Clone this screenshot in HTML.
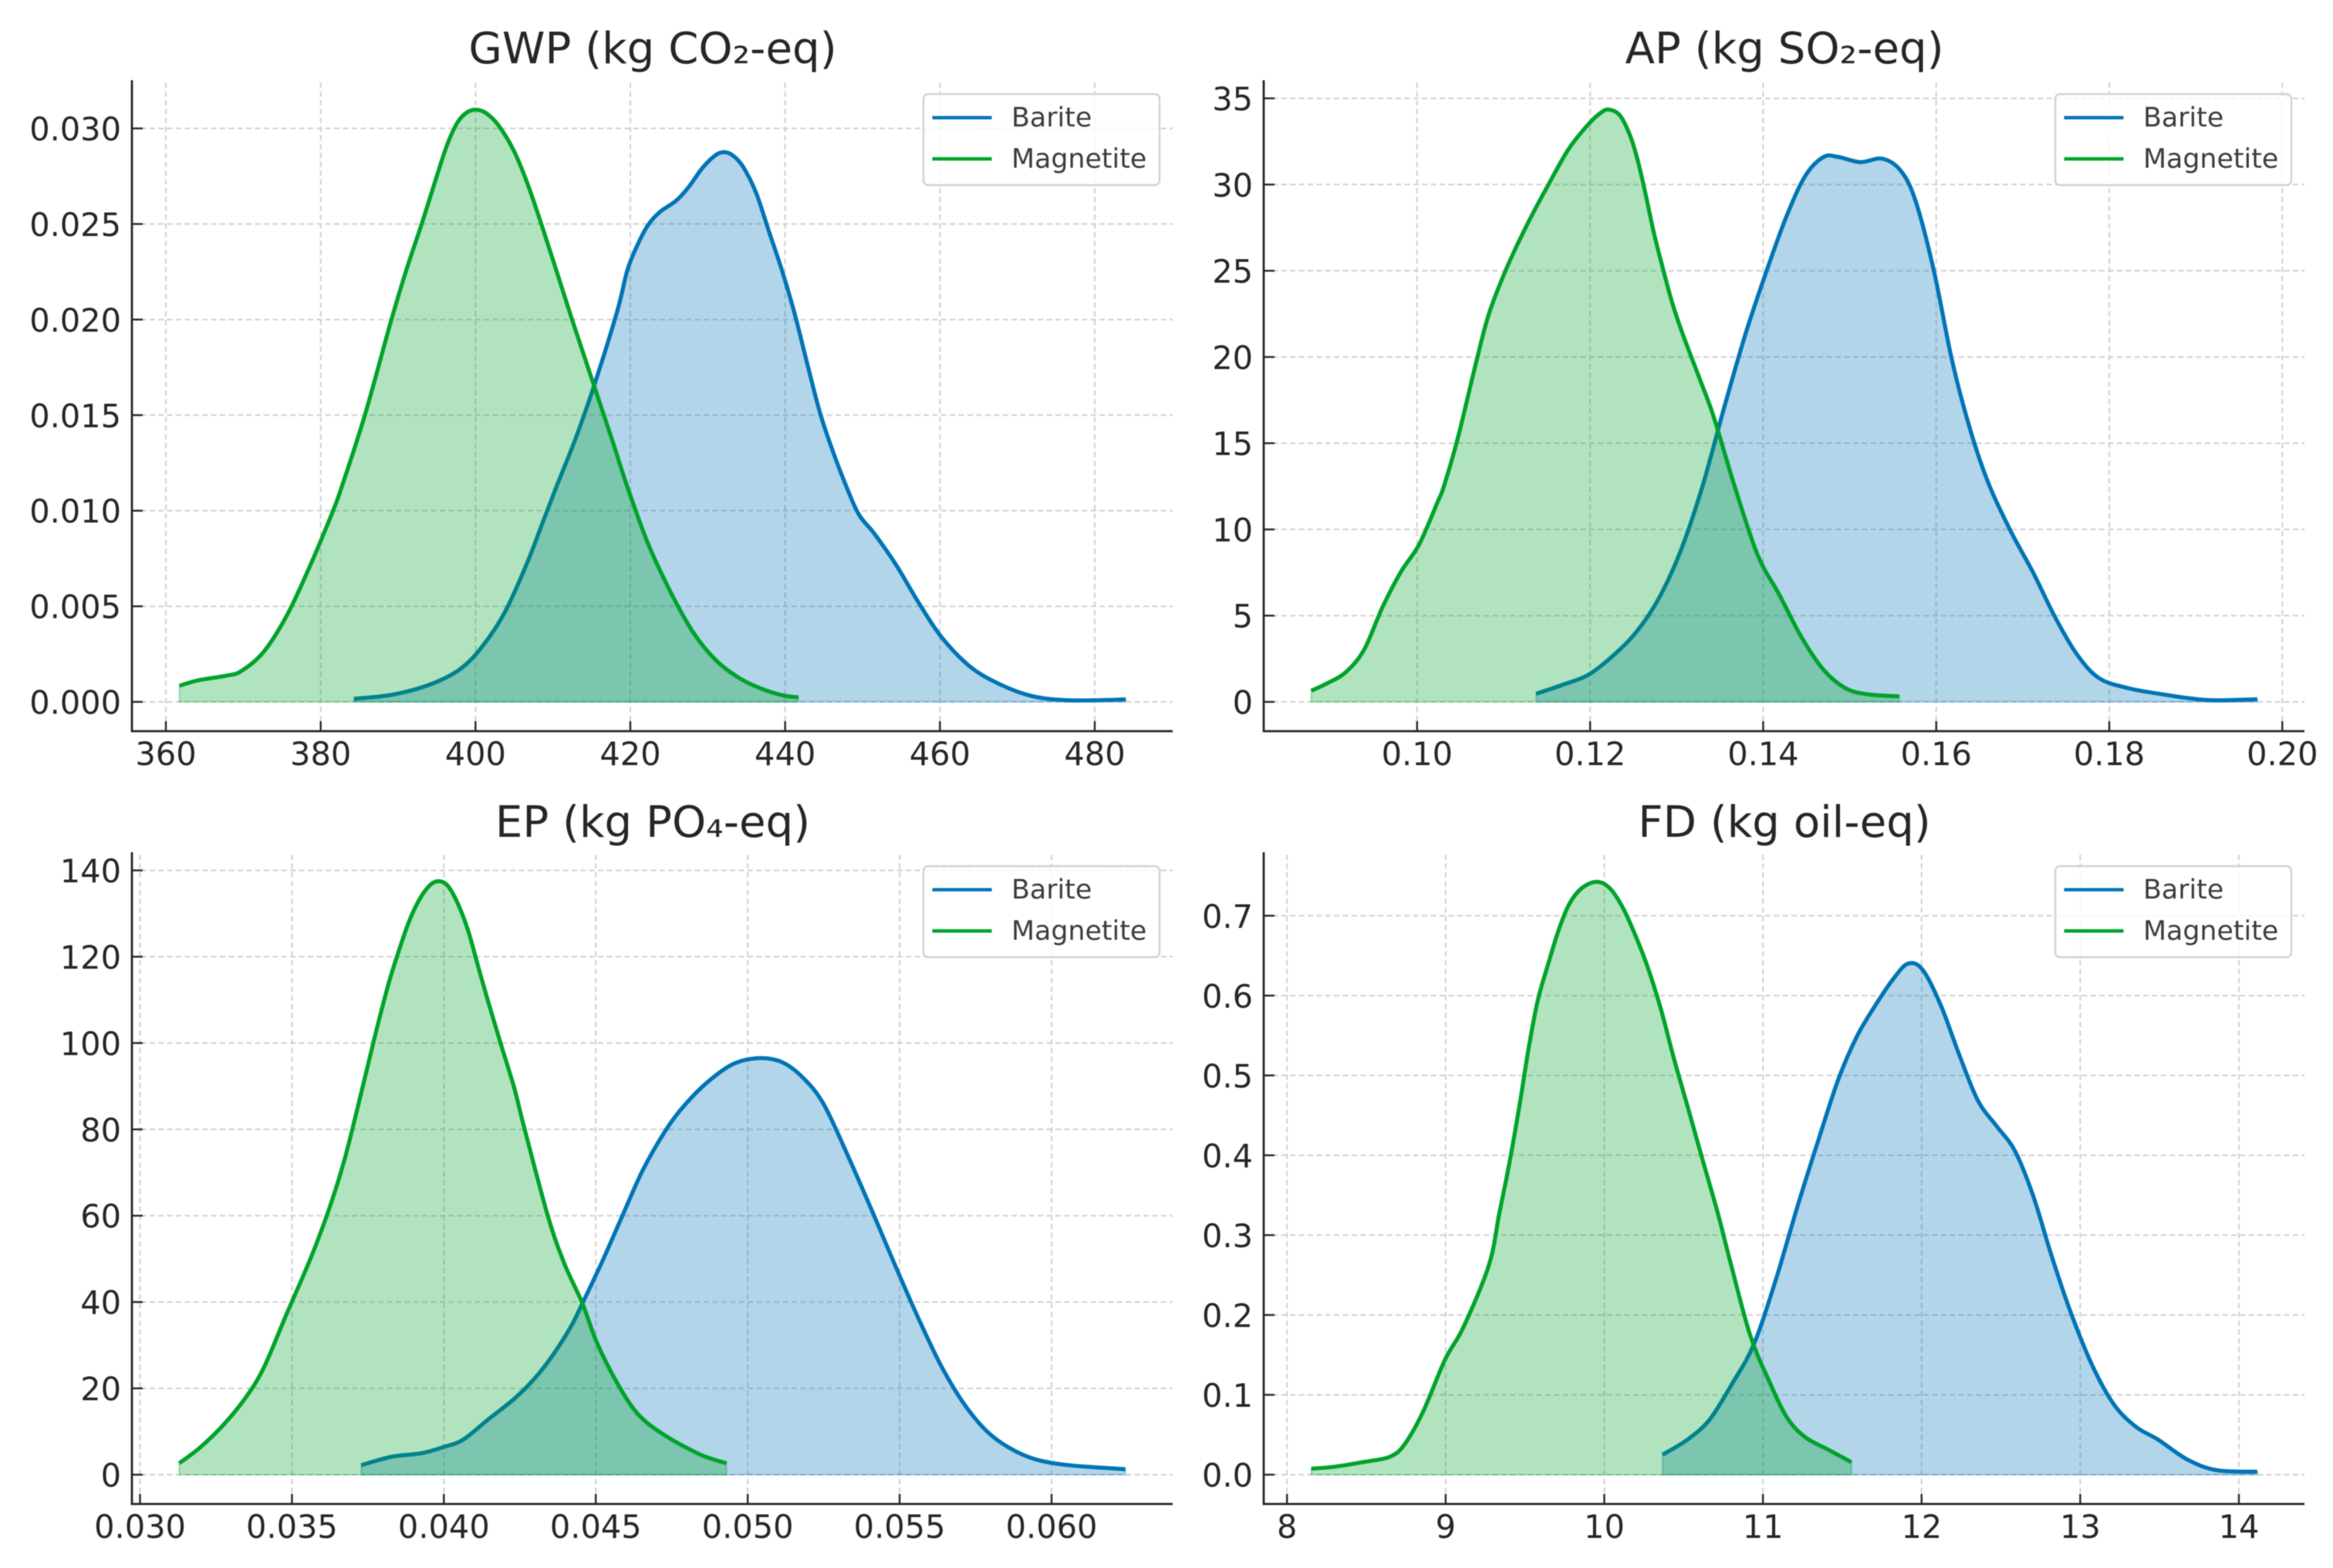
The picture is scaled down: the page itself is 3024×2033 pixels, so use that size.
<!DOCTYPE html>
<html lang="en">
<head>
<meta charset="utf-8">
<title>LCA impact density plots: Barite vs Magnetite</title>
<style>
  html, body { margin: 0; padding: 0; background: #ffffff; }
  body { width: 3024px; height: 2033px; overflow: hidden; }
  #figure { display: block; filter: blur(0.6px); }
  text { font-family: "DejaVu Sans", "Liberation Sans", sans-serif; }
  .panel-title { font-size: 56.2px; fill: #262626; text-anchor: middle; }
  .tick-label { font-size: 41.5px; fill: #262626; }
  .legend-label { font-size: 34.8px; fill: #3c3c3c; }
</style>
</head>
<body>
<svg id="figure" xmlns="http://www.w3.org/2000/svg" width="3024" height="2033" viewBox="0 0 3024 2033">
  <rect width="3024" height="2033" fill="#ffffff"/>
  <g id="panel-gwp">
    <text class="panel-title" x="846" y="82">GWP (kg CO₂-eq)</text>
  </g>
  <g id="panel-ap">
    <text class="panel-title" x="2313" y="82">AP (kg SO₂-eq)</text>
  </g>
  <g id="panel-ep">
    <text class="panel-title" x="846" y="1085">EP (kg PO₄-eq)</text>
  </g>
  <g id="panel-fd">
    <text class="panel-title" x="2313" y="1085">FD (kg oil-eq)</text>
  </g>
</svg>
<script>
// ---- Data: categories ----
const seriesNames = ["Barite", "Magnetite"];

// ---- Data: GWP ----
const gwpXTicks = [360, 380, 400, 420, 440, 460, 480];
const gwpXTickLabels = ["360", "380", "400", "420", "440", "460", "480"];
const gwpYTicks = [0, 0.005, 0.01, 0.015, 0.02, 0.025, 0.03];
const gwpYTickLabels = ["0.000", "0.005", "0.010", "0.015", "0.020", "0.025", "0.030"];
const gwpBariteX = [384.3, 389.2, 394, 397.9, 400.8, 403.8, 406.7, 408.6, 410.5, 413, 415.32, 418.31, 419.63, 420.97, 422.3, 423.79, 425.95, 427.61, 429.27, 430.94, 432.09, 433.26, 434.59, 436.25, 437.91, 439.57, 441.23, 442.9, 444.55, 446.22, 447.88, 449.53, 451.53, 454.3, 457.2, 460.2, 464, 467.9, 471.8, 475.7, 479.6, 484];
const gwpBariteY = [0.00016, 0.00037, 0.00089, 0.00168, 0.00286, 0.0047, 0.0073, 0.0093, 0.0113, 0.01385, 0.01654, 0.02044, 0.0226, 0.02394, 0.02495, 0.02562, 0.02623, 0.02697, 0.02791, 0.02858, 0.02876, 0.02858, 0.02798, 0.02663, 0.02461, 0.0226, 0.02031, 0.01762, 0.01506, 0.01305, 0.0113, 0.0098, 0.0088, 0.00719, 0.00522, 0.00339, 0.00181, 0.00089, 0.00031, 0.0001, 0.00008, 0.00013];
const gwpMagnetiteX = [361.75, 364.1, 367.8, 369.7, 372.6, 375.6, 378.5, 381.4, 382.76, 385.75, 389.07, 391.07, 393.06, 395.05, 396.38, 397.7, 398.87, 400.04, 401.36, 403.03, 405.02, 406.68, 408.34, 410, 412.33, 415.32, 417.64, 419.47, 422.2, 425.2, 428.1, 431, 433.9, 436.8, 439.7, 441.7];
const gwpMagnetiteY = [0.00084, 0.00112, 0.00137, 0.0016, 0.0026, 0.0045, 0.007, 0.0098, 0.0113, 0.01506, 0.0199, 0.0226, 0.02502, 0.02757, 0.02919, 0.03033, 0.03083, 0.03098, 0.0308, 0.03013, 0.02878, 0.02715, 0.0252, 0.02313, 0.02018, 0.01654, 0.01372, 0.01143, 0.00837, 0.00575, 0.00365, 0.0022, 0.00129, 0.00071, 0.00034, 0.00024];

// ---- Data: AP ----
const apXTicks = [0.10, 0.12, 0.14, 0.16, 0.18, 0.20];
const apXTickLabels = ["0.10", "0.12", "0.14", "0.16", "0.18", "0.20"];
const apYTicks = [0, 5, 10, 15, 20, 25, 30, 35];
const apYTickLabels = ["0", "5", "10", "15", "20", "25", "30", "35"];
const apBariteX = [0.11376, 0.11682, 0.1198, 0.12277, 0.12532, 0.12787, 0.13042, 0.13297, 0.13551, 0.13806, 0.14061, 0.14273, 0.14486, 0.14698, 0.14868, 0.15123, 0.15378, 0.1559, 0.1576, 0.15973, 0.16185, 0.16398, 0.1661, 0.16865, 0.1712, 0.17375, 0.1763, 0.17884, 0.18224, 0.18649, 0.18989, 0.19244, 0.19711];
const apBariteY = [0.47, 0.99, 1.57, 2.73, 4.04, 5.94, 8.7, 12.48, 17.1, 21.5, 25.3, 28.2, 30.5, 31.6, 31.6, 31.3, 31.5, 30.8, 29.07, 25.0, 19.75, 15.7, 12.6, 9.86, 7.5, 4.9, 2.73, 1.37, 0.79, 0.41, 0.17, 0.09, 0.15];
const apMagnetiteX = [0.08777, 0.08963, 0.09176, 0.09388, 0.09601, 0.09813, 0.10025, 0.10238, 0.10311, 0.10474, 0.10682, 0.10831, 0.11039, 0.11277, 0.11515, 0.11752, 0.1199, 0.12139, 0.12228, 0.12347, 0.12465, 0.12555, 0.12644, 0.12733, 0.12822, 0.12942, 0.1306, 0.13239, 0.13387, 0.13491, 0.13669, 0.13934, 0.14188, 0.14443, 0.14698, 0.14953, 0.15208, 0.15573];
const apMagnetiteY = [0.64, 1.08, 1.72, 3.03, 5.5, 7.54, 9.14, 11.6, 12.52, 15.36, 19.68, 22.51, 25.2, 27.73, 29.97, 32.06, 33.55, 34.22, 34.34, 33.99, 32.8, 31.31, 29.37, 27.28, 25.5, 23.26, 21.47, 19.09, 17.14, 15.51, 12.52, 8.55, 6.2, 3.75, 1.86, 0.79, 0.44, 0.32];

// ---- Data: EP ----
const epXTicks = [0.03, 0.035, 0.04, 0.045, 0.05, 0.055, 0.06];
const epXTickLabels = ["0.030", "0.035", "0.040", "0.045", "0.050", "0.055", "0.060"];
const epYTicks = [0, 20, 40, 60, 80, 100, 120, 140];
const epYTickLabels = ["0", "20", "40", "60", "80", "100", "120", "140"];
const epBariteX = [0.03728, 0.03827, 0.03926, 0.04001, 0.04063, 0.04147, 0.04232, 0.043, 0.04359, 0.04418, 0.04456, 0.0452, 0.04587, 0.04655, 0.04731, 0.04791, 0.04867, 0.04951, 0.05036, 0.05112, 0.0518, 0.05248, 0.05324, 0.05413, 0.05487, 0.05562, 0.05636, 0.0571, 0.05785, 0.05859, 0.05945, 0.06057, 0.06243];
const epBariteY = [2.2, 4.15, 4.96, 6.46, 8.1, 12.87, 17.6, 22.4, 27.75, 34.3, 39.7, 49.2, 59.9, 70.6, 79.9, 85.5, 90.9, 95.1, 96.5, 95.6, 92.1, 86.1, 74.8, 60.5, 48.2, 36.2, 25.3, 16.6, 10.2, 6.3, 3.6, 2.2, 1.27];
const epMagnetiteX = [0.03129, 0.03196, 0.0327, 0.03344, 0.03406, 0.03481, 0.03563, 0.03623, 0.03673, 0.03724, 0.03771, 0.03817, 0.03851, 0.03885, 0.03919, 0.03953, 0.03982, 0.04012, 0.04046, 0.0408, 0.04113, 0.04147, 0.0419, 0.04232, 0.04266, 0.04342, 0.04396, 0.04456, 0.04503, 0.0457, 0.04638, 0.04723, 0.04843, 0.0493];
const epMagnetiteY = [2.65, 6.2, 11.2, 17.5, 24.6, 37, 50.4, 61.7, 73, 87.3, 101, 113.5, 121.2, 128.1, 133.2, 136.5, 137.5, 136.5, 132.3, 126, 117.7, 109.3, 99.2, 89.5, 80, 60, 49, 39.7, 30.7, 21.3, 14.1, 9.3, 4.7, 2.65];

// ---- Data: FD ----
const fdXTicks = [8, 9, 10, 11, 12, 13, 14];
const fdXTickLabels = ["8", "9", "10", "11", "12", "13", "14"];
const fdYTicks = [0, 0.1, 0.2, 0.3, 0.4, 0.5, 0.6, 0.7];
const fdYTickLabels = ["0.0", "0.1", "0.2", "0.3", "0.4", "0.5", "0.6", "0.7"];
const fdBariteX = [10.367, 10.525, 10.664, 10.803, 10.942, 11.081, 11.22, 11.359, 11.475, 11.59, 11.706, 11.822, 11.915, 12.008, 12.123, 12.239, 12.355, 12.471, 12.587, 12.702, 12.818, 12.934, 13.073, 13.212, 13.351, 13.49, 13.675, 13.861, 14.116];
const fdBariteY = [0.025, 0.044, 0.069, 0.113, 0.163, 0.244, 0.3375, 0.425, 0.495, 0.548, 0.587, 0.621, 0.64, 0.632, 0.587, 0.525, 0.4685, 0.437, 0.406, 0.35, 0.275, 0.2065, 0.138, 0.088, 0.06, 0.044, 0.019, 0.0056, 0.0037];
const fdMagnetiteX = [8.153, 8.301, 8.486, 8.649, 8.741, 8.857, 8.996, 9.112, 9.273, 9.338, 9.403, 9.468, 9.525, 9.581, 9.646, 9.711, 9.776, 9.857, 9.954, 10.035, 10.116, 10.197, 10.278, 10.359, 10.44, 10.537, 10.619, 10.716, 10.797, 10.919, 11.035, 11.15, 11.266, 11.405, 11.558];
const fdMagnetiteY = [0.0075, 0.01, 0.016, 0.0225, 0.038, 0.0786, 0.144, 0.1847, 0.2627, 0.3271, 0.3915, 0.4656, 0.5364, 0.5943, 0.6394, 0.6813, 0.7135, 0.7344, 0.7425, 0.7344, 0.7103, 0.6749, 0.633, 0.5815, 0.5203, 0.4527, 0.3948, 0.3271, 0.2644, 0.175, 0.119, 0.072, 0.047, 0.032, 0.0156];

// ---- Rendering ----
const SVG_NS = "http://www.w3.org/2000/svg";
const BLUE = "#0074b6";
const GREEN = "#00a32a";

function mk(parent, tag, attrs, text) {
  const el = document.createElementNS(SVG_NS, tag);
  for (const k in attrs) el.setAttribute(k, attrs[k]);
  if (text !== undefined) el.textContent = text;
  parent.appendChild(el);
  return el;
}

function scale(d0, d1, r0, r1) {
  return function (v) { return r0 + (v - d0) * (r1 - r0) / (d1 - d0); };
}

function smoothPath(pts) {
  let d = "M" + pts[0][0].toFixed(2) + " " + pts[0][1].toFixed(2);
  for (let i = 0; i < pts.length - 1; i++) {
    const p0 = pts[Math.max(0, i - 1)];
    const p1 = pts[i];
    const p2 = pts[i + 1];
    const p3 = pts[Math.min(pts.length - 1, i + 2)];
    const c1x = p1[0] + (p2[0] - p0[0]) / 6;
    const c1y = p1[1] + (p2[1] - p0[1]) / 6;
    const c2x = p2[0] - (p3[0] - p1[0]) / 6;
    const c2y = p2[1] - (p3[1] - p1[1]) / 6;
    d += "C" + c1x.toFixed(2) + " " + c1y.toFixed(2) + " " + c2x.toFixed(2) + " " + c2y.toFixed(2) + " " + p2[0].toFixed(2) + " " + p2[1].toFixed(2);
  }
  return d;
}

function drawSeries(g, prefix, label, color, xs, ys, xScale, yScale) {
  const pts = xs.map(function (v, i) { return [xScale(v), yScale(ys[i])]; });
  const line = smoothPath(pts);
  const base = yScale(0);
  const areaD = line + "L" + pts[pts.length - 1][0].toFixed(2) + " " + base + "L" + pts[0][0].toFixed(2) + " " + base + "Z";
  const area = mk(g, "path", { d: areaD, fill: color, "fill-opacity": 0.3, stroke: color, "stroke-opacity": 0.3, "stroke-width": 2 });
  
  
  const curve = mk(g, "path", { d: line, fill: "none", stroke: color, "stroke-width": 5.2, "stroke-linejoin": "round" });
  
  
}

function drawPanel(cfg) {
  const g = document.getElementById(cfg.id);
  const xScale = scale(cfg.xDomain[0], cfg.xDomain[1], cfg.xRange[0], cfg.xRange[1]);
  const yScale = scale(cfg.yDomain[0], cfg.yDomain[1], cfg.yRange[0], cfg.yRange[1]);
  const b = cfg.box;

  // grid
  cfg.xTicks.forEach(function (v) {
    const gl = mk(g, "line", { x1: xScale(v), x2: xScale(v), y1: b.top + 3, y2: b.bottom, stroke: "#d0d0d0", "stroke-width": 2, "stroke-dasharray": "7 4.4" });
    
    
  });
  cfg.yTicks.forEach(function (v) {
    const gl = mk(g, "line", { x1: b.left, x2: b.right, y1: yScale(v), y2: yScale(v), stroke: "#d0d0d0", "stroke-width": 2, "stroke-dasharray": "7 4.4" });
    
    
  });

  // series
  drawSeries(g, cfg.prefix, seriesNames[0], BLUE, cfg.bariteX, cfg.bariteY, xScale, yScale);
  drawSeries(g, cfg.prefix, seriesNames[1], GREEN, cfg.magnetiteX, cfg.magnetiteY, xScale, yScale);

  // spines
  const yAxis = mk(g, "line", { x1: b.left, x2: b.left, y1: b.top, y2: b.bottom + 1.4, stroke: "#262626", "stroke-width": 2.8 });
  
  
  const xAxis = mk(g, "line", { x1: b.left, x2: b.right, y1: b.bottom, y2: b.bottom, stroke: "#262626", "stroke-width": 2.8 });
  
  

  // ticks + labels
  cfg.xTicks.forEach(function (v, i) {
    const t = mk(g, "line", { x1: xScale(v), x2: xScale(v), y1: b.bottom, y2: b.bottom - 13, stroke: "#262626", "stroke-width": 2.4 });
    
    
    const lab = mk(g, "text", { class: "tick-label", x: xScale(v), y: b.bottom + 44, "text-anchor": "middle" }, cfg.xLabels[i]);
    
    
  });
  cfg.yTicks.forEach(function (v, i) {
    const t = mk(g, "line", { x1: b.left, x2: b.left + 14, y1: yScale(v), y2: yScale(v), stroke: "#262626", "stroke-width": 2.4 });
    
    
    const lab = mk(g, "text", { class: "tick-label", x: b.left - 14, y: yScale(v) + 15.5, "text-anchor": "end" }, cfg.yLabels[i]);
    
    
  });

  // legend
  const lx = b.right - 323;
  const ly = b.top + 18;
  const legend = mk(g, "g", {});
  
  
  const frame = mk(legend, "rect", { x: lx, y: ly, width: 306, height: 118, rx: 6, ry: 6, fill: "#ffffff", "fill-opacity": 0.8, stroke: "#d2d2d2", "stroke-width": 2.4 });
  
  
  [BLUE, GREEN].forEach(function (color, i) {
    const rowY = ly + 30.6 + i * 53.4;
    const sw = mk(legend, "line", { x1: lx + 11.5, x2: lx + 88.5, y1: rowY, y2: rowY, stroke: color, "stroke-width": 4.4 });
    
    
    const tx = mk(legend, "text", { class: "legend-label", x: lx + 114, y: rowY + 11.3 }, seriesNames[i]);
    
    
  });
}

drawPanel({
  id: "panel-gwp", prefix: "gwp",
  box: { left: 171, right: 1520, top: 104, bottom: 948 },
  xDomain: [360, 480], xRange: [215, 1419],
  yDomain: [0, 0.03], yRange: [910, 166.5],
  xTicks: gwpXTicks, xLabels: gwpXTickLabels, yTicks: gwpYTicks, yLabels: gwpYTickLabels,
  bariteX: gwpBariteX, bariteY: gwpBariteY, magnetiteX: gwpMagnetiteX, magnetiteY: gwpMagnetiteY
});
drawPanel({
  id: "panel-ap", prefix: "ap",
  box: { left: 1638, right: 2987, top: 104, bottom: 948 },
  xDomain: [0.1, 0.2], xRange: [1836.8, 2958.3],
  yDomain: [0, 35], yRange: [910, 127.5],
  xTicks: apXTicks, xLabels: apXTickLabels, yTicks: apYTicks, yLabels: apYTickLabels,
  bariteX: apBariteX, bariteY: apBariteY, magnetiteX: apMagnetiteX, magnetiteY: apMagnetiteY
});
drawPanel({
  id: "panel-ep", prefix: "ep",
  box: { left: 171, right: 1520, top: 1105, bottom: 1950 },
  xDomain: [0.03, 0.06], xRange: [181.5, 1363],
  yDomain: [0, 140], yRange: [1912, 1128.5],
  xTicks: epXTicks, xLabels: epXTickLabels, yTicks: epYTicks, yLabels: epYTickLabels,
  bariteX: epBariteX, bariteY: epBariteY, magnetiteX: epMagnetiteX, magnetiteY: epMagnetiteY
});
drawPanel({
  id: "panel-fd", prefix: "fd",
  box: { left: 1638, right: 2987, top: 1105, bottom: 1950 },
  xDomain: [8, 14], xRange: [1668.2, 2902],
  yDomain: [0, 0.7], yRange: [1912, 1187.3],
  xTicks: fdXTicks, xLabels: fdXTickLabels, yTicks: fdYTicks, yLabels: fdYTickLabels,
  bariteX: fdBariteX, bariteY: fdBariteY, magnetiteX: fdMagnetiteX, magnetiteY: fdMagnetiteY
});
</script>
</body>
</html>
